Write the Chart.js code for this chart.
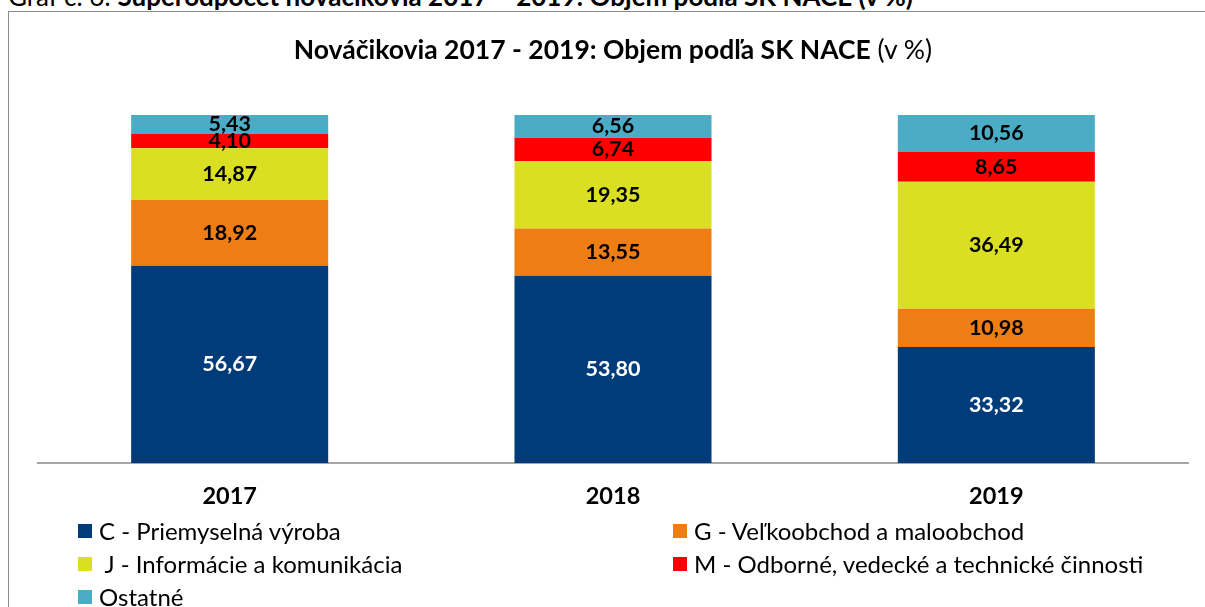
<!DOCTYPE html>
<html><head><meta charset="utf-8">
<script src="https://cdn.jsdelivr.net/npm/chart.js@4/dist/chart.umd.min.js"></script>
<style>
html,body{margin:0;padding:0;width:1205px;height:607px;overflow:hidden;background:#fff;font-family:Lato,"Open Sans",sans-serif;}
#cap{position:absolute;left:8px;top:-19px;font-size:26px;line-height:30px;color:#000;white-space:nowrap;}
#frame{position:absolute;left:8px;top:11px;width:1400px;height:800px;border:1px solid #8c8c8c;}
#title{position:absolute;left:0;width:1226px;top:32px;text-align:center;font-size:26.5px;line-height:34px;color:#000;}
#wrap{position:absolute;left:0;top:0;width:1205px;height:607px;}
#legend{position:absolute;left:78px;top:516px;display:grid;grid-template-columns:595px 520px;row-gap:4px;font-size:24px;line-height:29px;}
.li{display:flex;align-items:center;white-space:pre;}
.sw{width:14px;height:14px;margin-right:7px;display:inline-block;}
</style></head><body>
<div id="cap">Graf č. 6: <b>Superodpočet nováčikovia 2017 – 2019: Objem podľa SK NACE (v %)</b></div>
<div id="frame"></div>
<div id="wrap"><canvas id="c" width="1205" height="607"></canvas></div>
<div id="title"><b>Nováčikovia 2017 - 2019: Objem podľa SK NACE</b> (v %)</div>
<div id="legend"></div>
<script>
const categories = ["2017", "2018", "2019"];
const seriesNames = ["C - Priemyselná výroba", "G - Veľkoobchod a maloobchod", " J - Informácie a komunikácia", "M - Odborné, vedecké a technické činnosti", "Ostatné"];
const valuesC = [56.67, 53.80, 33.32];
const valuesG = [18.92, 13.55, 10.98];
const valuesJ = [14.87, 19.35, 36.49];
const valuesM = [4.10, 6.74, 8.65];
const valuesOstatne = [5.43, 6.56, 10.56];
const colors = ["#003C7A", "#EE7D14", "#DAE021", "#FF0000", "#4BACC6"];
const labelColors = ["#ffffff", "#000000", "#000000", "#000000", "#000000"];

const allValues = [valuesC, valuesG, valuesJ, valuesM, valuesOstatne];
const datasets = allValues.map((v, i) => ({
  label: seriesNames[i], data: v, backgroundColor: colors[i], borderWidth: 0,
  categoryPercentage: 1, barPercentage: 0.514
}));

const labelPlugin = {
  id: 'vals',
  afterDatasetsDraw(chart) {
    const ctx = chart.ctx;
    ctx.save();
    ctx.font = 'bold 21.5px Lato, "Open Sans", sans-serif';
    ctx.textAlign = 'center';
    ctx.textBaseline = 'middle';
    chart.data.datasets.forEach((ds, i) => {
      const meta = chart.getDatasetMeta(i);
      meta.data.forEach((bar, j) => {
        const y = (bar.y + bar.base) / 2;
        ctx.fillStyle = labelColors[i];
        ctx.fillText(ds.data[j].toFixed(2).replace('.', ','), bar.x, y);
      });
    });
    ctx.restore();
  }
};

new Chart(document.getElementById('c'), {
  type: 'bar',
  data: { labels: categories, datasets },
  options: {
    responsive: false, animation: false,
    layout: { padding: { left: 38, right: 17, top: 115, bottom: 0 } },
    plugins: { legend: { display: false }, tooltip: { enabled: false }, title: { display: false } },
    scales: {
      x: {
        stacked: true,
        grid: { display: false, drawTicks: false },
        border: { display: true, color: '#a6a6a6', width: 2 },
        ticks: { color: '#000', font: { size: 23.5, weight: 'bold', family: 'Lato, "Open Sans", sans-serif' }, padding: 19 },
        afterFit(s) { s.height = 144; }
      },
      y: { stacked: true, display: false, min: 0, max: 100 }
    }
  },
  plugins: [labelPlugin]
});

const lg = document.getElementById('legend');
seriesNames.forEach((n, i) => {
  const d = document.createElement('div'); d.className = 'li';
  const s = document.createElement('span'); s.className = 'sw'; s.style.background = colors[i];
  d.appendChild(s); d.appendChild(document.createTextNode(n));
  lg.appendChild(d);
});
</script>
</body></html>
